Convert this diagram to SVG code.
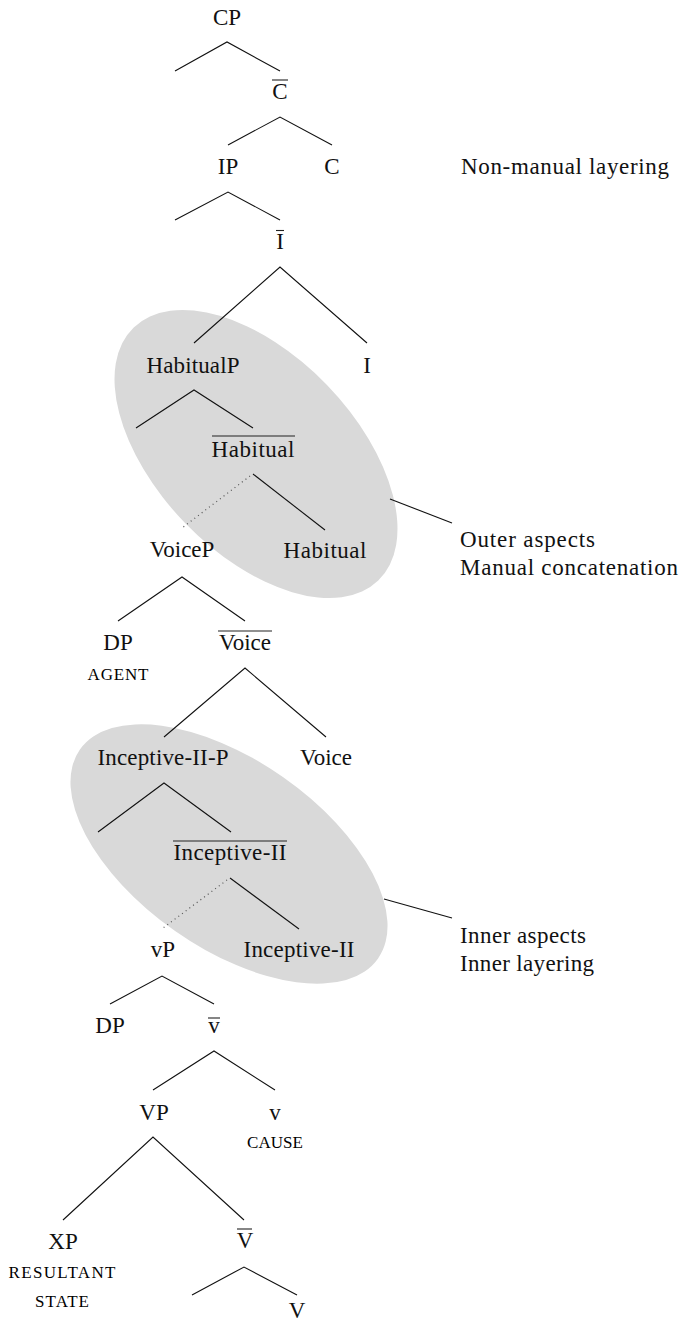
<svg xmlns="http://www.w3.org/2000/svg" width="684" height="1324" viewBox="0 0 684 1324">
  <style>
    text { font-family: "Liberation Serif", "Times New Roman", serif; font-size: 23px; fill: #111; }
    .m { text-anchor: middle; }
    .sc { font-size: 17px; text-anchor: middle; fill: #000; }
    .bar { stroke: #222; stroke-width: 1.1; }
    .edge { stroke: #111; stroke-width: 1.1; fill: none; }
    .dot { stroke: #555; stroke-width: 1.2; stroke-dasharray: 1 3.6; fill: none; }
    .zone { fill: #d9d9d9; stroke: none; }
  </style>

  <!-- shaded aspect zones -->
  <g id="zones">
    <ellipse class="zone" cx="256" cy="454" rx="176" ry="99" transform="rotate(46 256 454)"/>
    <ellipse class="zone" cx="229" cy="854" rx="182" ry="94" transform="rotate(35 229 854)"/>
  </g>

  <!-- tree branches and annotation pointers -->
  <g id="connectors">
    <path class="edge" d="M175,71 L227,42 L280,71"/>
    <path class="edge" d="M228,145 L280,117 L332,145"/>
    <path class="edge" d="M175,220 L228,192 L280,220"/>
    <path class="edge" d="M194,343 L280,267 L367,343"/>
    <path class="edge" d="M136,428 L194,390 L253,428"/>
    <line class="edge" x1="253" y1="474" x2="325" y2="530"/>
    <line class="dot" x1="250" y1="476" x2="182" y2="528"/>
    <path class="edge" d="M118,621 L182,577 L245,621"/>
    <path class="edge" d="M164,737 L245,668 L326,737"/>
    <path class="edge" d="M98,832 L164,783 L231,832"/>
    <line class="edge" x1="230" y1="878" x2="299" y2="929"/>
    <line class="dot" x1="227" y1="880" x2="163" y2="928"/>
    <path class="edge" d="M110,1004 L162,976 L214,1004"/>
    <path class="edge" d="M153,1090 L214,1051 L275,1090"/>
    <path class="edge" d="M63,1220 L153,1137 L244,1220"/>
    <path class="edge" d="M192,1295 L244,1267 L297,1295"/>
    <line class="edge" x1="390" y1="499" x2="452" y2="523"/>
    <line class="edge" x1="384" y1="899" x2="452" y2="918"/>
  </g>

  <g id="n-CP"><text class="m" x="227" y="25">CP</text></g>
  <g id="n-Cbar"><line class="bar" x1="272" y1="80" x2="288" y2="80"/><text class="m" x="280" y="99">C</text></g>
  <g id="n-IP"><text class="m" x="228" y="174">IP</text></g>
  <g id="n-C"><text class="m" x="332" y="174">C</text></g>
  <g id="note-nonmanual"><text x="461" y="174" textLength="208" lengthAdjust="spacing">Non-manual layering</text></g>
  <g id="n-Ibar"><line class="bar" x1="276" y1="230.5" x2="284" y2="230.5"/><text class="m" x="280" y="249">I</text></g>
  <g id="n-HabitualP"><text class="m" x="193" y="373" textLength="93" lengthAdjust="spacing">HabitualP</text></g>
  <g id="n-I"><text class="m" x="367" y="373">I</text></g>
  <g id="n-Habitualbar"><line class="bar" x1="212" y1="436" x2="295" y2="436"/><text class="m" x="253" y="457" textLength="83" lengthAdjust="spacing">Habitual</text></g>
  <g id="n-VoiceP"><text class="m" x="182" y="557">VoiceP</text></g>
  <g id="n-Habitual"><text class="m" x="325" y="558" textLength="83" lengthAdjust="spacing">Habitual</text></g>
  <g id="note-outer">
    <text x="460" y="547" textLength="135" lengthAdjust="spacing">Outer aspects</text>
    <text x="460" y="575" textLength="218" lengthAdjust="spacing">Manual concatenation</text>
  </g>
  <g id="n-DP-agent"><text class="m" x="118" y="650">DP</text><text class="sc" x="118" y="680" textLength="61" lengthAdjust="spacing">AGENT</text></g>
  <g id="n-Voicebar"><line class="bar" x1="218" y1="631" x2="272" y2="631"/><text class="m" x="245" y="650">Voice</text></g>
  <g id="n-InceptiveIIP"><text class="m" x="163" y="765" textLength="131" lengthAdjust="spacing">Inceptive-II-P</text></g>
  <g id="n-Voice"><text class="m" x="326" y="765">Voice</text></g>
  <g id="n-InceptiveIIbar"><line class="bar" x1="173" y1="841" x2="287" y2="841"/><text class="m" x="230" y="860" textLength="113" lengthAdjust="spacing">Inceptive-II</text></g>
  <g id="n-vP"><text class="m" x="163" y="957">vP</text></g>
  <g id="n-InceptiveII"><text class="m" x="299" y="957" textLength="111" lengthAdjust="spacing">Inceptive-II</text></g>
  <g id="note-inner">
    <text x="460" y="943" textLength="126" lengthAdjust="spacing">Inner aspects</text>
    <text x="460" y="971" textLength="134" lengthAdjust="spacing">Inner layering</text>
  </g>
  <g id="n-DP"><text class="m" x="110" y="1033">DP</text></g>
  <g id="n-vbar"><line class="bar" x1="208" y1="1018" x2="220" y2="1018"/><text class="m" x="214" y="1033">v</text></g>
  <g id="n-VP"><text class="m" x="154" y="1120">VP</text></g>
  <g id="n-v-cause"><text class="m" x="275" y="1120">v</text><text class="sc" x="275" y="1148" textLength="56" lengthAdjust="spacing">CAUSE</text></g>
  <g id="n-XP"><text class="m" x="63" y="1249">XP</text><text class="sc" x="62" y="1278" textLength="107" lengthAdjust="spacing">RESULTANT</text><text class="sc" x="62" y="1307" textLength="54" lengthAdjust="spacing">STATE</text></g>
  <g id="n-Vbar"><line class="bar" x1="237" y1="1229" x2="252" y2="1229"/><text class="m" x="245" y="1248">V</text></g>
  <g id="n-V"><text class="m" x="297" y="1318">V</text></g>
</svg>
